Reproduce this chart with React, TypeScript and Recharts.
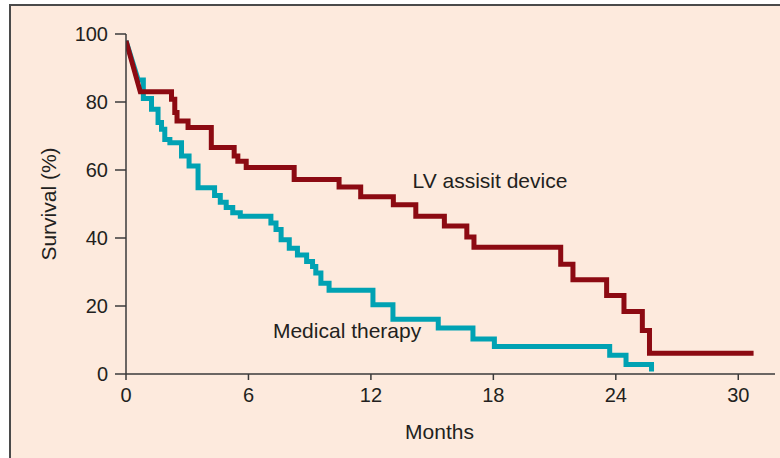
import {
  LineChart,
  Line,
  XAxis,
  YAxis,
  ReferenceDot,
  Label,
} from "recharts";

// Kaplan-Meier style survival (months, % surviving)
const lvTimes = [0, 0.7, 2.23, 2.39, 2.5, 3.04, 4.18, 5.3, 5.48, 5.89, 8.24, 10.44, 11.5, 13.1, 14.2, 15.6, 16.7, 17.05, 21.3, 21.9, 23.55, 24.4, 25.3, 25.65];
const lvSurvival = [98, 83, 80.8, 76.9, 74.4, 72.5, 66.6, 64.1, 62.6, 60.7, 57.2, 55, 52.1, 49.8, 46.4, 43.5, 40.3, 37.3, 32.3, 27.7, 23.1, 18.4, 12.8, 6.1];
const lvFollowUpEnd = 30.75;

const medTimes = [0, 0.6, 0.85, 1.25, 1.57, 1.74, 1.9, 2.15, 2.72, 3.09, 3.53, 4.34, 4.62, 4.91, 5.23, 5.6, 7.1, 7.35, 7.6, 8.0, 8.4, 8.85, 9.14, 9.3, 9.55, 9.95, 12.1, 13.08, 15.3, 17.0, 18.05, 23.7, 24.5, 25.75];
const medSurvival = [98, 86.5, 81, 77.9, 74, 72, 69, 68, 64.1, 61.2, 54.8, 52.5, 50.5, 49, 47.4, 46.4, 44.4, 42.5, 39.5, 37, 35, 33.1, 31.6, 29.7, 26.7, 24.6, 20.4, 16.1, 13.5, 10.3, 8.1, 5.5, 2.8, 0.7];
const medFollowUpEnd = 25.75;

const xTicks = [0, 6, 12, 18, 24, 30];
const yTicks = [0, 20, 40, 60, 80, 100];

const FONT = "'Liberation Sans', Arial, Helvetica, sans-serif";
const INK = "#231f20";
const AXIS = "#3a3a3a";

// first segment is a straight drop, the rest are steps
function stepPoints(times: number[], vals: number[], end: number) {
  const pts = [
    { t: times[0], s: vals[0] },
    { t: times[1], s: vals[1] },
  ];
  for (let i = 2; i < times.length; i++) {
    pts.push({ t: times[i], s: vals[i - 1] });
    pts.push({ t: times[i], s: vals[i] });
  }
  pts.push({ t: end, s: vals[vals.length - 1] });
  return pts;
}

const lvData = stepPoints(lvTimes, lvSurvival, lvFollowUpEnd);
const medData = stepPoints(medTimes, medSurvival, medFollowUpEnd);

const seriesLabel = (text: string) => (props: any) => {
  const vb = props.viewBox || {};
  return (
    <text x={vb.x} y={vb.y} fill={INK} fontSize={21} fontFamily={FONT} textAnchor="start">
      {text}
    </text>
  );
};

export default function App() {
  return (
    <div
      style={{
        position: "absolute",
        left: 9,
        top: 4,
        width: 771,
        height: 454,
        boxSizing: "border-box",
        background: "#fdeadd",
        borderLeft: "2px solid #4a4a4a",
        borderTop: "2px solid #4a4a4a",
      }}
    >
      <LineChart width={769} height={452} margin={{ top: 28, right: 5, bottom: 24, left: 0 }}>
        <XAxis
          dataKey="t"
          type="number"
          domain={[0, 31.8]}
          ticks={xTicks}
          allowDataOverflow
          height={60}
          tickSize={6}
          tickMargin={8}
          axisLine={{ stroke: AXIS, strokeWidth: 1.5 }}
          tickLine={{ stroke: AXIS, strokeWidth: 1.5 }}
          tick={{ fill: INK, fontSize: 20, fontFamily: FONT }}
        >
          <Label
            content={(p: any) => {
              const vb = p.viewBox || {};
              return (
                <text x={vb.x + vb.width / 2 - 11} y={vb.y + 65} fill={INK} fontSize={21} fontFamily={FONT} textAnchor="middle">
                  Months
                </text>
              );
            }}
          />
        </XAxis>
        <YAxis
          type="number"
          domain={[0, 100]}
          ticks={yTicks}
          width={115}
          tickSize={11}
          tickMargin={7}
          axisLine={{ stroke: AXIS, strokeWidth: 1.5 }}
          tickLine={{ stroke: AXIS, strokeWidth: 1.5 }}
          tick={{ fill: INK, fontSize: 20, fontFamily: FONT }}
        >
          <Label
            content={(p: any) => {
              const vb = p.viewBox || {};
              const cx = vb.x + 37;
              const cy = vb.y + vb.height / 2;
              return (
                <text
                  x={cx}
                  y={cy}
                  transform={`rotate(-90, ${cx}, ${cy})`}
                  fill={INK}
                  fontSize={21}
                  fontFamily={FONT}
                  textAnchor="middle"
                  dominantBaseline="central"
                >
                  Survival (%)
                </text>
              );
            }}
          />
        </YAxis>
        <Line
          data={medData}
          dataKey="s"
          type="linear"
          stroke="#00a2b3"
          strokeWidth={5}
          dot={false}
          activeDot={false}
          isAnimationActive={false}
        />
        <Line
          data={lvData}
          dataKey="s"
          type="linear"
          stroke="#8c0a12"
          strokeWidth={5}
          dot={false}
          activeDot={false}
          isAnimationActive={false}
        />
        <ReferenceDot x={14.04} y={54.6} r={0} fill="none" stroke="none" label={{ content: seriesLabel("LV assisit device") }} />
        <ReferenceDot x={7.2} y={10.5} r={0} fill="none" stroke="none" label={{ content: seriesLabel("Medical therapy") }} />
      </LineChart>
    </div>
  );
}
